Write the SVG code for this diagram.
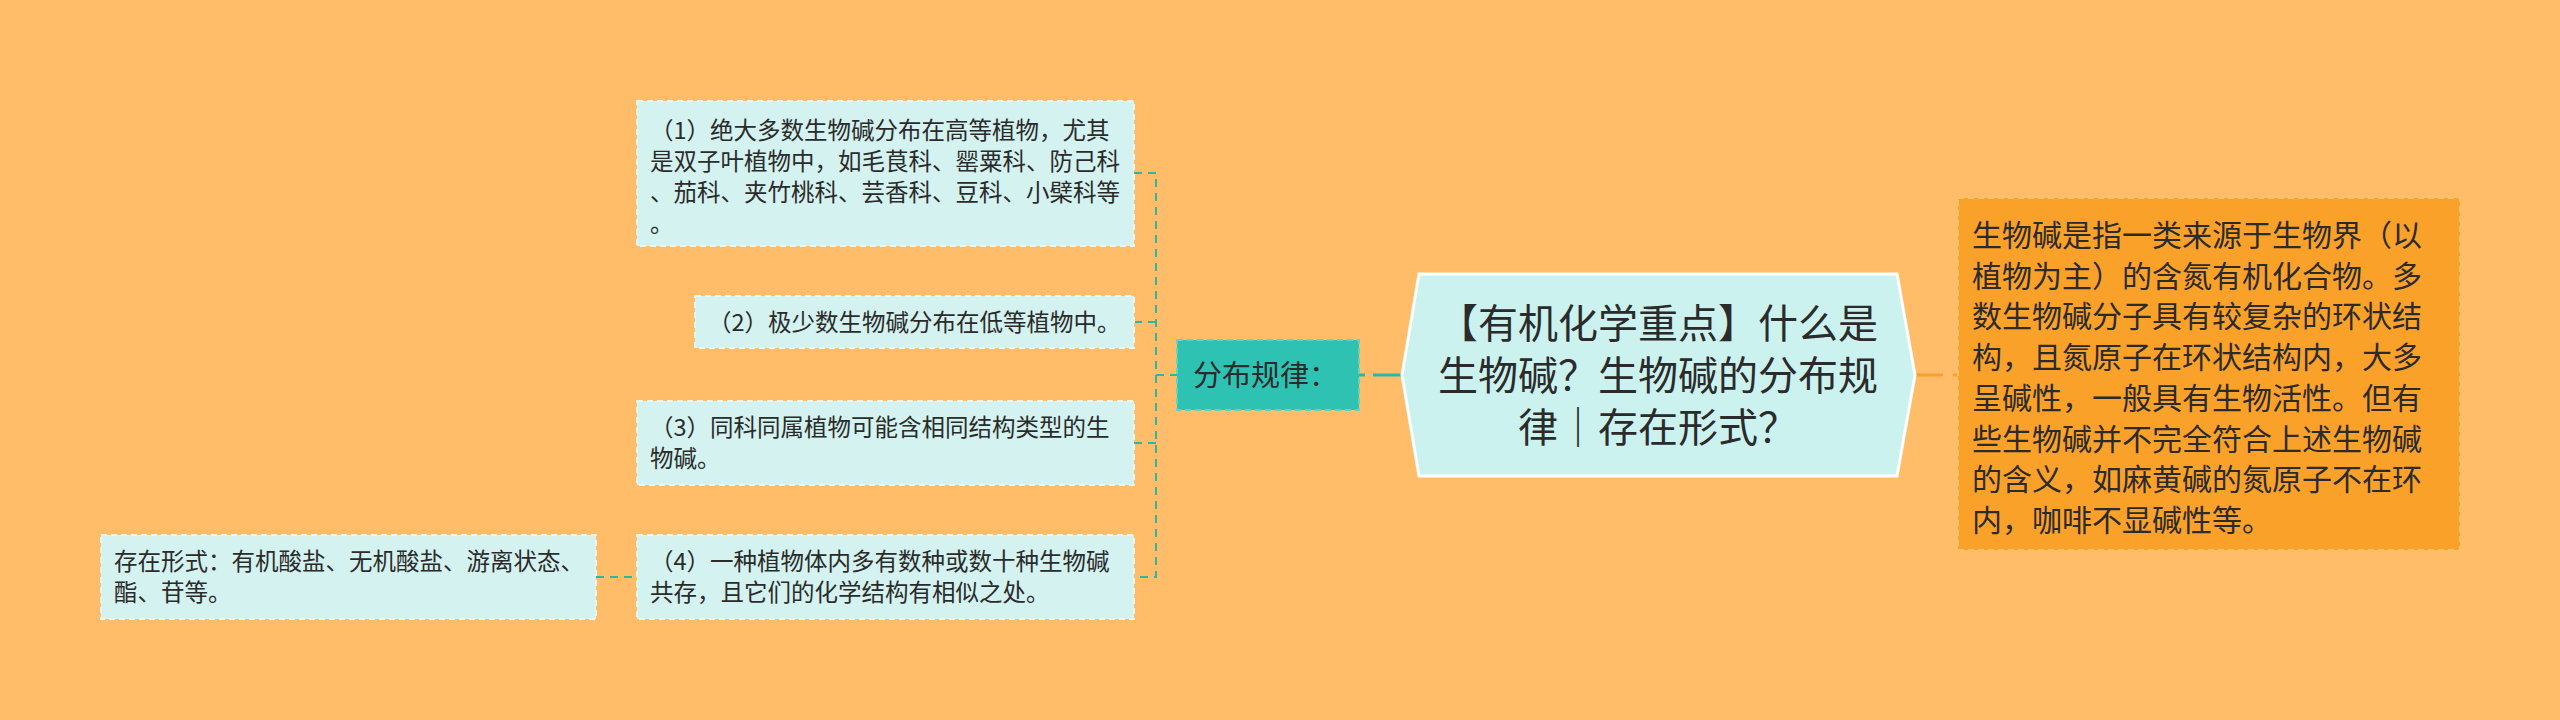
<svg xmlns="http://www.w3.org/2000/svg" width="2560" height="720" viewBox="0 0 2560 720">
<style>
text{font-family:"Noto Sans CJK SC","Noto Sans",sans-serif;fill:#2b2b2b}
.s{font-size:23.5px}
.leaf{fill:#D4F2EF;stroke:#E9F7F2;stroke-width:2;stroke-dasharray:6 4}
.conn{fill:none;stroke:#2DB7A3;stroke-width:2;stroke-dasharray:8 6}
</style>
<rect x="0" y="0" width="2560" height="720" fill="#FFBD69"/>
<g id="connectors">
<path class="conn" d="M1134,173 H1156 V577 H1134 M1134,322 H1156 M1134,443 H1156 M1156,375 H1177"/>
<path d="M1359,375 H1402" fill="none" stroke="#2DB7A3" stroke-width="3" stroke-dasharray="6 8 30"/>
<path d="M1915,375 H1958" fill="none" stroke="#F7A02A" stroke-width="3" stroke-dasharray="28 10 6"/>
<path class="conn" d="M596,577 H638"/>
</g>
<g id="center">
<polygon points="1402,375 1419,274 1897,274 1915,375 1897,476 1419,476" fill="#CBF2EE" stroke="#FFFFFF" stroke-width="3"/>
<text x="1658" y="338" font-size="40" text-anchor="middle">【有机化学重点】什么是</text>
<text x="1658" y="390" font-size="40" text-anchor="middle">生物碱？生物碱的分布规</text>
<text x="1658" y="442" font-size="40" text-anchor="middle">律｜存在形式？</text>
</g>
<g id="definition">
<rect x="1958" y="198" width="502" height="352" fill="#FAA12A" stroke="#FFC266" stroke-width="2" stroke-dasharray="6 4"/>
<text font-size="30" x="1972">
<tspan x="1972" y="246">生物碱是指一类来源于生物界（以</tspan>
<tspan x="1972" y="286.7">植物为主）的含氮有机化合物。多</tspan>
<tspan x="1972" y="327.4">数生物碱分子具有较复杂的环状结</tspan>
<tspan x="1972" y="368.1">构，且氮原子在环状结构内，大多</tspan>
<tspan x="1972" y="408.8">呈碱性，一般具有生物活性。但有</tspan>
<tspan x="1972" y="449.5">些生物碱并不完全符合上述生物碱</tspan>
<tspan x="1972" y="490.2">的含义，如麻黄碱的氮原子不在环</tspan>
<tspan x="1972" y="530.9">内，咖啡不显碱性等。</tspan>
</text>
</g>
<g id="distribution">
<rect x="1177" y="340" width="182" height="70" fill="#2EC2B3" stroke="#5FD3C6" stroke-width="2" stroke-dasharray="6 4"/>
<text x="1193" y="386" font-size="29">分布规律：</text>
</g>
<g id="rule1">
<rect class="leaf" x="637" y="101" width="497" height="145"/>
<text class="s">
<tspan x="650" y="139">（1）绝大多数生物碱分布在高等植物，尤其</tspan>
<tspan x="650" y="170">是双子叶植物中，如毛茛科、罂粟科、防己科</tspan>
<tspan x="650" y="201">、茄科、夹竹桃科、芸香科、豆科、小檗科等</tspan>
<tspan x="650" y="232">。</tspan>
</text>
</g>
<g id="rule2">
<rect class="leaf" x="695" y="296" width="439" height="52"/>
<text class="s" x="708" y="331">（2）极少数生物碱分布在低等植物中。</text>
</g>
<g id="rule3">
<rect class="leaf" x="637" y="401" width="497" height="84"/>
<text class="s">
<tspan x="650" y="436">（3）同科同属植物可能含相同结构类型的生</tspan>
<tspan x="650" y="467">物碱。</tspan>
</text>
</g>
<g id="rule4">
<rect class="leaf" x="637" y="535" width="497" height="84"/>
<text class="s">
<tspan x="650" y="570">（4）一种植物体内多有数种或数十种生物碱</tspan>
<tspan x="650" y="601">共存，且它们的化学结构有相似之处。</tspan>
</text>
</g>
<g id="forms">
<rect class="leaf" x="101" y="535" width="495" height="84"/>
<text class="s">
<tspan x="114" y="570">存在形式：有机酸盐、无机酸盐、游离状态、</tspan>
<tspan x="114" y="601">酯、苷等。</tspan>
</text>
</g>
</svg>
